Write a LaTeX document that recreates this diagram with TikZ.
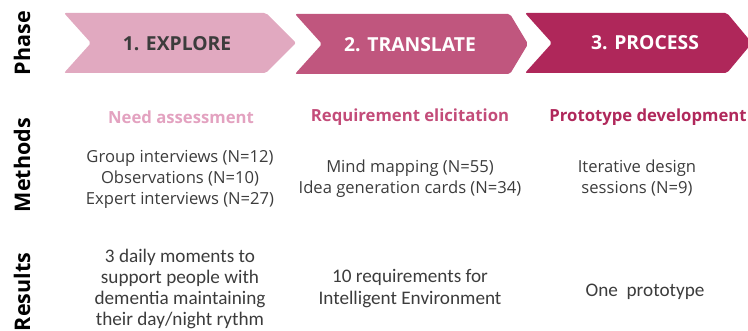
\documentclass[tikz,border=0pt]{standalone}
\usepackage{fontspec}
\setmainfont{Open Sans}
\newfontfamily\resfont{Carlito}
\definecolor{pinkA}{HTML}{E1A9C0}
\definecolor{pinkB}{HTML}{C0567E}
\definecolor{pinkC}{HTML}{AF275A}
\definecolor{txtA}{HTML}{3C3C3C}
\definecolor{headA}{HTML}{E3A2C0}
\definecolor{headB}{HTML}{C34C79}
\definecolor{headC}{HTML}{B0285B}
\begin{document}
\begin{tikzpicture}[x=1pt,y=-1pt,
  chev/.style={rounded corners=2pt},
  phasetxt/.style={font=\fontsize{19.3}{22}\selectfont\bfseries},
  side/.style={rotate=90,font=\fontsize{21.5}{24}\selectfont\bfseries,text=black},
  head/.style={font=\fontsize{16.7}{20}\selectfont\bfseries},
  body/.style={align=center,font=\fontsize{16.6}{21}\selectfont,text=txtA},
  res/.style={align=center,font=\resfont\fontsize{19.2}{21.2}\selectfont,text=txtA}]
\useasboundingbox (0,0) rectangle (748,331);
% chevrons
\fill[pinkA,chev] (64,13) -- (266,13) -- (296,43) -- (266,73) -- (64,73) -- (91,43) -- cycle;
\fill[pinkB,chev] (295,14) -- (510,14) -- (528,44) -- (510,74) -- (295,74) -- (322,44) -- cycle;
\fill[pinkC,chev] (525,13) -- (727,13) -- (752,43) -- (727,73) -- (525,73) -- (552,43) -- cycle;
\node[phasetxt,text=txtA] (p1) at (177,44) {1. EXPLORE};
\node[phasetxt,text=white] (p2) at (410,45) {2. TRANSLATE};
\node[phasetxt,text=white] (p3) at (645,43) {3. PROCESS};
% side labels
\node[side] (sphase) at (22,43) {Phase};
\node[side] (smeth) at (22,165) {Methods};
\node[side] (sres) at (22,292) {Results};
% method headings
\node[head,text=headA] (h1) at (181,117) {Need assessment};
\node[head,text=headB] (h2) at (410,117) {Requirement elicitation};
\node[head,text=headC] (h3) at (648,117) {Prototype development};
% methods
\node[body] (m1) at (180,179) {Group interviews (N=12)\\Observations (N=10)\\Expert interviews (N=27)};
\node[body] (m2) at (410,178.5) {Mind mapping (N=55)\\Idea generation cards (N=34)};
\node[body] (m3) at (637,178.5) {Iterative design\\sessions (N=9)};
% results
\node[res] (r1) at (180,289) {3 daily moments to\\support people with\\dementia maintaining\\their day/night rythm};
\node[res] (r2) at (410,288.5) {10 requirements for\\Intelligent Environment};
\node[res] (r3) at (645,292) {One\ \ prototype};
\end{tikzpicture}
\end{document}
